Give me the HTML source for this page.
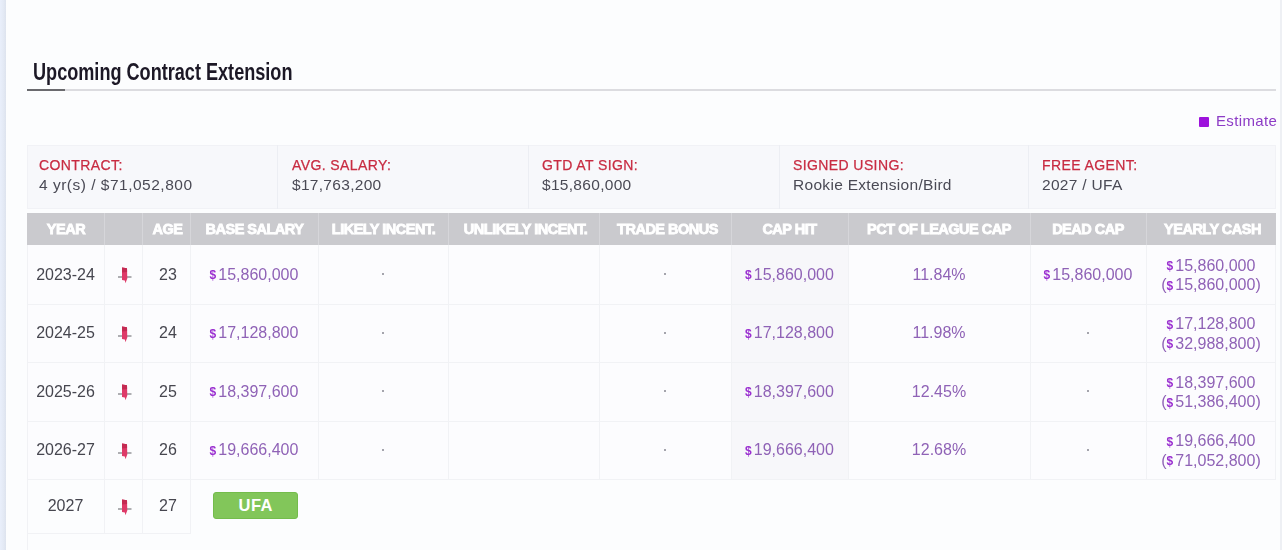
<!DOCTYPE html><html><head><meta charset="utf-8"><style>
*{margin:0;padding:0;box-sizing:border-box}
html,body{width:1282px;height:550px;overflow:hidden;background:#fcfdfe;font-family:"Liberation Sans",sans-serif}
.abs{position:absolute}
.c{position:absolute;display:flex;align-items:center;justify-content:center;text-align:center;white-space:nowrap}
.hd{color:#fff;font-weight:bold;font-size:14.5px;letter-spacing:-0.5px;-webkit-text-stroke:0.8px #fff}
.d{color:#46464f;font-size:16px}
.p{color:#8f62b6;font-size:16px}
.yc{line-height:18.5px;padding-top:3px}
.dl{font-size:12px;font-weight:bold;color:#9a2fd0;margin-right:2px;position:relative;top:-0.5px}
.pin{position:absolute}
.lab{position:absolute;color:#c82c42;font-size:14px;letter-spacing:0.4px;-webkit-text-stroke:0.25px #c82c42;white-space:nowrap}
.val{position:absolute;color:#4a4a55;font-size:15.5px;letter-spacing:0.3px;white-space:nowrap}
</style></head><body><div style="position:absolute;left:0;top:0;width:1282px;height:550px;filter:blur(0.35px)">

<div class="abs" style="left:0;top:0;width:5.5px;height:550px;background:linear-gradient(to right,#e9effb 0,#e4eaf5 55%,#dde3ee 100%)"></div>
<div class="abs" style="left:1280px;top:0;width:2px;height:550px;background:#eef0f4"></div>
<div class="abs" style="left:33px;top:58.5px;font-size:23.3px;font-weight:bold;color:#1c1826;white-space:nowrap;transform-origin:0 0;transform:scaleX(0.777)">Upcoming Contract Extension</div>
<div class="abs" style="left:65px;top:89px;width:1211px;height:2px;background:#dcdce0"></div>
<div class="abs" style="left:27px;top:89px;width:38px;height:2px;background:#6a6a6e"></div>
<div class="abs" style="left:1199px;top:117px;width:10px;height:9.5px;background:#9d12dc;border-radius:1px"></div>
<div class="abs" style="left:1216px;top:112px;font-size:15px;letter-spacing:0.35px;color:#8d3cc6;white-space:nowrap">Estimate</div>
<div class="abs" style="left:27px;top:145px;width:1249px;height:64px;background:#f7f8fb;border:1px solid #f1f2f6"></div>
<div class="abs" style="left:277px;top:145px;width:1px;height:64px;background:#eceef3"></div>
<div class="abs" style="left:528px;top:145px;width:1px;height:64px;background:#eceef3"></div>
<div class="abs" style="left:779px;top:145px;width:1px;height:64px;background:#eceef3"></div>
<div class="abs" style="left:1028px;top:145px;width:1px;height:64px;background:#eceef3"></div>
<div class="lab" style="left:39px;top:157px">CONTRACT:</div>
<div class="val" style="left:39px;top:175.5px"><span style="letter-spacing:0.5px">4 yr(s) / $71,052,800</span></div>
<div class="lab" style="left:292px;top:157px">AVG. SALARY:</div>
<div class="val" style="left:292px;top:175.5px">$17,763,200</div>
<div class="lab" style="left:542px;top:157px">GTD AT SIGN:</div>
<div class="val" style="left:542px;top:175.5px">$15,860,000</div>
<div class="lab" style="left:793px;top:157px">SIGNED USING:</div>
<div class="val" style="left:793px;top:175.5px">Rookie Extension/Bird</div>
<div class="lab" style="left:1042px;top:157px">FREE AGENT:</div>
<div class="val" style="left:1042px;top:175.5px">2027 / UFA</div>
<div class="abs" style="left:27px;top:245px;width:1249px;height:234px;background:#fcfcfe"></div>
<div class="abs" style="left:732px;top:245px;width:116px;height:234px;background:#f7f7fa"></div>
<div class="abs" style="left:27px;top:213px;width:1249px;height:32px;background:#cacace"></div>
<div class="abs" style="left:104px;top:213px;width:1px;height:32px;background:#d6d6da"></div>
<div class="abs" style="left:142px;top:213px;width:1px;height:32px;background:#d6d6da"></div>
<div class="abs" style="left:190px;top:213px;width:1px;height:32px;background:#d6d6da"></div>
<div class="abs" style="left:318px;top:213px;width:1px;height:32px;background:#d6d6da"></div>
<div class="abs" style="left:448px;top:213px;width:1px;height:32px;background:#d6d6da"></div>
<div class="abs" style="left:599px;top:213px;width:1px;height:32px;background:#d6d6da"></div>
<div class="abs" style="left:731px;top:213px;width:1px;height:32px;background:#d6d6da"></div>
<div class="abs" style="left:848px;top:213px;width:1px;height:32px;background:#d6d6da"></div>
<div class="abs" style="left:1030px;top:213px;width:1px;height:32px;background:#d6d6da"></div>
<div class="abs" style="left:1146px;top:213px;width:1px;height:32px;background:#d6d6da"></div>
<div class="c hd" style="left:27.5px;top:213px;width:77px;height:32px">YEAR</div>
<div class="c hd" style="left:104.0px;top:213px;width:38px;height:32px"></div>
<div class="c hd" style="left:143.5px;top:213px;width:48px;height:32px">AGE</div>
<div class="c hd" style="left:190.5px;top:213px;width:128px;height:32px">BASE SALARY</div>
<div class="c hd" style="left:318.5px;top:213px;width:130px;height:32px">LIKELY INCENT.</div>
<div class="c hd" style="left:450.0px;top:213px;width:151px;height:32px">UNLIKELY INCENT.</div>
<div class="c hd" style="left:601.5px;top:213px;width:132px;height:32px">TRADE BONUS</div>
<div class="c hd" style="left:731.0px;top:213px;width:117px;height:32px">CAP HIT</div>
<div class="c hd" style="left:848.0px;top:213px;width:182px;height:32px">PCT OF LEAGUE CAP</div>
<div class="c hd" style="left:1030.0px;top:213px;width:116px;height:32px">DEAD CAP</div>
<div class="c hd" style="left:1147.5px;top:213px;width:130px;height:32px">YEARLY CASH</div>
<div class="abs" style="left:27px;top:304px;width:1249px;height:1px;background:#f1f2f5"></div>
<div class="abs" style="left:27px;top:362px;width:1249px;height:1px;background:#f1f2f5"></div>
<div class="abs" style="left:27px;top:421px;width:1249px;height:1px;background:#f1f2f5"></div>
<div class="abs" style="left:27px;top:479px;width:1249px;height:1px;background:#f1f2f5"></div>
<div class="abs" style="left:27px;top:533px;width:164px;height:1px;background:#f1f2f5"></div>
<div class="abs" style="left:104px;top:245px;width:1px;height:234px;background:#f1f2f5"></div>
<div class="abs" style="left:142px;top:245px;width:1px;height:234px;background:#f1f2f5"></div>
<div class="abs" style="left:190px;top:245px;width:1px;height:234px;background:#f1f2f5"></div>
<div class="abs" style="left:318px;top:245px;width:1px;height:234px;background:#f1f2f5"></div>
<div class="abs" style="left:448px;top:245px;width:1px;height:234px;background:#f1f2f5"></div>
<div class="abs" style="left:599px;top:245px;width:1px;height:234px;background:#f1f2f5"></div>
<div class="abs" style="left:731px;top:245px;width:1px;height:234px;background:#f1f2f5"></div>
<div class="abs" style="left:848px;top:245px;width:1px;height:234px;background:#f1f2f5"></div>
<div class="abs" style="left:1030px;top:245px;width:1px;height:234px;background:#f1f2f5"></div>
<div class="abs" style="left:1146px;top:245px;width:1px;height:234px;background:#f1f2f5"></div>
<div class="abs" style="left:104px;top:479px;width:1px;height:54px;background:#f1f2f5"></div>
<div class="abs" style="left:142px;top:479px;width:1px;height:54px;background:#f1f2f5"></div>
<div class="abs" style="left:190px;top:479px;width:1px;height:54px;background:#f1f2f5"></div>
<div class="abs" style="left:27px;top:245px;width:1px;height:305px;background:#f1f2f5"></div>
<div class="abs" style="left:1275px;top:245px;width:1px;height:234px;background:#f1f2f5"></div>
<div class="c d" style="left:27px;top:245px;width:77px;height:59px"><div>2023-24</div></div>
<svg class="abs" style="left:116px;top:265px" width="18" height="20" viewBox="0 0 18 20"><rect x="2" y="11.3" width="13.5" height="1.4" fill="#8e8e92"/><polygon points="6,2.5 11,3.2 11.3,13.5 10.3,16 9.6,18.3 8.8,15.6 6,15" fill="#de3a68"/><polygon points="6,2.5 11,3.2 11.1,7 6,7.5" fill="#c42a52"/></svg>
<div class="c d" style="left:144px;top:245px;width:48px;height:59px"><div>23</div></div>
<div class="c p" style="left:190px;top:245px;width:128px;height:59px"><div><span class="dl">$</span>15,860,000</div></div>
<div class="abs" style="left:382px;top:273px;width:2px;height:2px;background:#a4a4ac"></div>
<div class="abs" style="left:664px;top:273px;width:2px;height:2px;background:#a4a4ac"></div>
<div class="c p" style="left:731px;top:245px;width:117px;height:59px"><div><span class="dl">$</span>15,860,000</div></div>
<div class="c p" style="left:848px;top:245px;width:182px;height:59px"><div>11.84%</div></div>
<div class="c p" style="left:1030px;top:245px;width:116px;height:59px"><div><span class="dl">$</span>15,860,000</div></div>
<div class="c p yc" style="left:1146px;top:245px;width:130px;height:59px"><div><span class="dl">$</span>15,860,000<br>(<span class="dl">$</span>15,860,000)</div></div>
<div class="c d" style="left:27px;top:304px;width:77px;height:58px"><div>2024-25</div></div>
<svg class="abs" style="left:116px;top:324px" width="18" height="20" viewBox="0 0 18 20"><rect x="2" y="11.3" width="13.5" height="1.4" fill="#8e8e92"/><polygon points="6,2.5 11,3.2 11.3,13.5 10.3,16 9.6,18.3 8.8,15.6 6,15" fill="#de3a68"/><polygon points="6,2.5 11,3.2 11.1,7 6,7.5" fill="#c42a52"/></svg>
<div class="c d" style="left:144px;top:304px;width:48px;height:58px"><div>24</div></div>
<div class="c p" style="left:190px;top:304px;width:128px;height:58px"><div><span class="dl">$</span>17,128,800</div></div>
<div class="abs" style="left:382px;top:332px;width:2px;height:2px;background:#a4a4ac"></div>
<div class="abs" style="left:664px;top:332px;width:2px;height:2px;background:#a4a4ac"></div>
<div class="c p" style="left:731px;top:304px;width:117px;height:58px"><div><span class="dl">$</span>17,128,800</div></div>
<div class="c p" style="left:848px;top:304px;width:182px;height:58px"><div>11.98%</div></div>
<div class="abs" style="left:1087px;top:332px;width:2px;height:2px;background:#a4a4ac"></div>
<div class="c p yc" style="left:1146px;top:304px;width:130px;height:58px"><div><span class="dl">$</span>17,128,800<br>(<span class="dl">$</span>32,988,800)</div></div>
<div class="c d" style="left:27px;top:362px;width:77px;height:59px"><div>2025-26</div></div>
<svg class="abs" style="left:116px;top:382px" width="18" height="20" viewBox="0 0 18 20"><rect x="2" y="11.3" width="13.5" height="1.4" fill="#8e8e92"/><polygon points="6,2.5 11,3.2 11.3,13.5 10.3,16 9.6,18.3 8.8,15.6 6,15" fill="#de3a68"/><polygon points="6,2.5 11,3.2 11.1,7 6,7.5" fill="#c42a52"/></svg>
<div class="c d" style="left:144px;top:362px;width:48px;height:59px"><div>25</div></div>
<div class="c p" style="left:190px;top:362px;width:128px;height:59px"><div><span class="dl">$</span>18,397,600</div></div>
<div class="abs" style="left:382px;top:390px;width:2px;height:2px;background:#a4a4ac"></div>
<div class="abs" style="left:664px;top:390px;width:2px;height:2px;background:#a4a4ac"></div>
<div class="c p" style="left:731px;top:362px;width:117px;height:59px"><div><span class="dl">$</span>18,397,600</div></div>
<div class="c p" style="left:848px;top:362px;width:182px;height:59px"><div>12.45%</div></div>
<div class="abs" style="left:1087px;top:390px;width:2px;height:2px;background:#a4a4ac"></div>
<div class="c p yc" style="left:1146px;top:362px;width:130px;height:59px"><div><span class="dl">$</span>18,397,600<br>(<span class="dl">$</span>51,386,400)</div></div>
<div class="c d" style="left:27px;top:421px;width:77px;height:58px"><div>2026-27</div></div>
<svg class="abs" style="left:116px;top:441px" width="18" height="20" viewBox="0 0 18 20"><rect x="2" y="11.3" width="13.5" height="1.4" fill="#8e8e92"/><polygon points="6,2.5 11,3.2 11.3,13.5 10.3,16 9.6,18.3 8.8,15.6 6,15" fill="#de3a68"/><polygon points="6,2.5 11,3.2 11.1,7 6,7.5" fill="#c42a52"/></svg>
<div class="c d" style="left:144px;top:421px;width:48px;height:58px"><div>26</div></div>
<div class="c p" style="left:190px;top:421px;width:128px;height:58px"><div><span class="dl">$</span>19,666,400</div></div>
<div class="abs" style="left:382px;top:449px;width:2px;height:2px;background:#a4a4ac"></div>
<div class="abs" style="left:664px;top:449px;width:2px;height:2px;background:#a4a4ac"></div>
<div class="c p" style="left:731px;top:421px;width:117px;height:58px"><div><span class="dl">$</span>19,666,400</div></div>
<div class="c p" style="left:848px;top:421px;width:182px;height:58px"><div>12.68%</div></div>
<div class="abs" style="left:1087px;top:449px;width:2px;height:2px;background:#a4a4ac"></div>
<div class="c p yc" style="left:1146px;top:421px;width:130px;height:58px"><div><span class="dl">$</span>19,666,400<br>(<span class="dl">$</span>71,052,800)</div></div>
<div class="c d" style="left:27px;top:479px;width:77px;height:54px">2027</div>
<svg class="abs" style="left:116px;top:497px" width="18" height="20" viewBox="0 0 18 20"><rect x="2" y="11.3" width="13.5" height="1.4" fill="#8e8e92"/><polygon points="6,2.5 11,3.2 11.3,13.5 10.3,16 9.6,18.3 8.8,15.6 6,15" fill="#de3a68"/><polygon points="6,2.5 11,3.2 11.1,7 6,7.5" fill="#c42a52"/></svg>
<div class="c d" style="left:144px;top:479px;width:48px;height:54px">27</div>
<div class="c" style="left:213px;top:492px;width:85px;height:27px;background:#82c65a;border:1px solid #74bc4c;border-radius:3px;color:#fff;font-weight:bold;font-size:16.5px;letter-spacing:0.5px;text-indent:0.5px;padding-top:0px">UFA</div>
</div></body></html>
